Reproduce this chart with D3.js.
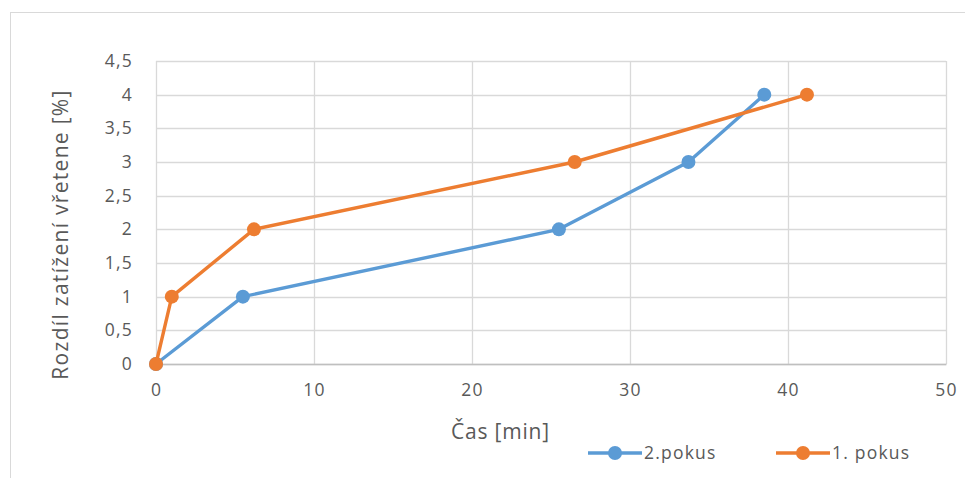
<!DOCTYPE html>
<html>
<head>
<meta charset="utf-8">
<script src="https://cdn.jsdelivr.net/npm/d3@7"></script>
<style>
  body { margin: 0; background: #fff; }
  svg text { font-family: "Open Sans", "Noto Sans", sans-serif; fill: #595959; }
</style>
</head>
<body>
<svg id="chart" width="965" height="478"></svg>
<script>
// --- Data ---
const xTicks = [0, 10, 20, 30, 40, 50];
const yTicks = [0, 0.5, 1, 1.5, 2, 2.5, 3, 3.5, 4, 4.5];

const pokus2Time = [0, 5.5, 25.5, 33.7, 38.5];
const pokus2Value = [0, 1, 2, 3, 4];

const pokus1Time = [0, 1, 6.2, 26.5, 41.2];
const pokus1Value = [0, 1, 2, 3, 4];

const series = [
  { name: "2.pokus", color: "#5B9BD5", xs: pokus2Time, ys: pokus2Value },
  { name: "1. pokus", color: "#ED7D31", xs: pokus1Time, ys: pokus1Value },
];

// --- Layout ---
const svg = d3.select("#chart");
const margin = { top: 61, right: 19, bottom: 114, left: 156 };
const W = 965, H = 478;
const innerW = W - margin.left - margin.right,
  innerH = H - margin.top - margin.bottom;

// outer chart frame
svg.append("rect")
  .attr("x", 10.5).attr("y", 12.5)
  .attr("width", 970).attr("height", 480)
  .attr("fill", "none").attr("stroke", "#d9d9d9");

const g = svg.append("g").attr("transform", `translate(${margin.left},${margin.top})`);

const x = d3.scaleLinear().domain([0, 50]).range([0, innerW]);
const y = d3.scaleLinear().domain([0, 4.5]).range([innerH, 0]);
const fmt = (d) => String(d).replace(".", ",");

// gridlines
g.append("g").selectAll("line").data(yTicks).join("line")
  .attr("x1", 0).attr("x2", innerW)
  .attr("y1", (d) => Math.round(y(d)) + 0.5).attr("y2", (d) => Math.round(y(d)) + 0.5)
  .attr("stroke", "#d9d9d9").attr("stroke-width", 1.3);
g.append("g").selectAll("line").data(xTicks).join("line")
  .attr("y1", 0).attr("y2", innerH)
  .attr("x1", (d) => Math.round(x(d)) + 0.5).attr("x2", (d) => Math.round(x(d)) + 0.5)
  .attr("stroke", "#d9d9d9").attr("stroke-width", 1.3);

// axes
const xAxis = g.append("g")
  .attr("transform", `translate(0,${innerH})`)
  .call(d3.axisBottom(x).tickValues(xTicks).tickSize(0).tickPadding(20).tickFormat(fmt));
xAxis.select(".domain").attr("stroke", "#bfbfbf").attr("stroke-width", 1.3);
xAxis.selectAll("text").attr("font-size", 17.5).attr("letter-spacing", 1.2);

const yAxis = g.append("g")
  .call(d3.axisLeft(y).tickValues(yTicks).tickSize(0).tickPadding(23).tickFormat(fmt));
yAxis.select(".domain").remove();
yAxis.selectAll("text").attr("font-size", 17.5).attr("letter-spacing", 1.2);

// axis titles
g.append("text")
  .attr("x", x(21.8)).attr("y", innerH + 75)
  .attr("text-anchor", "middle").attr("font-size", 21).attr("letter-spacing", 0.8)
  .text("Čas [min]");
g.append("text")
  .attr("transform", "rotate(-90)")
  .attr("x", -innerH / 2 - 22).attr("y", -88)
  .attr("text-anchor", "middle").attr("font-size", 21).attr("letter-spacing", 1.3)
  .text("Rozdíl zatížení vřetene [%]");

// lines + markers
series.forEach((s) => {
  const pts = s.xs.map((t, i) => [t, s.ys[i]]);
  g.append("path")
    .datum(pts)
    .attr("fill", "none")
    .attr("stroke", s.color)
    .attr("stroke-width", 3.4)
    .attr("stroke-linejoin", "round")
    .attr("d", d3.line().x((d) => x(d[0])).y((d) => y(d[1])));
  g.append("g").selectAll("circle").data(pts).join("circle")
    .attr("cx", (d) => x(d[0])).attr("cy", (d) => y(d[1]))
    .attr("r", 7).attr("fill", s.color);
});

// legend
const legendX = [588, 776];
series.forEach((s, i) => {
  const lg = svg.append("g").attr("transform", `translate(${legendX[i]},453)`);
  lg.append("line").attr("x1", 0).attr("x2", 54).attr("y1", 0).attr("y2", 0)
    .attr("stroke", s.color).attr("stroke-width", 3.4);
  lg.append("circle").attr("cx", 27).attr("cy", 0).attr("r", 7).attr("fill", s.color);
  lg.append("text").attr("x", 56).attr("y", 0).attr("dy", "0.35em")
    .attr("font-size", 17.5).attr("letter-spacing", 1.2).text(s.name);
});
</script>
</body>
</html>
